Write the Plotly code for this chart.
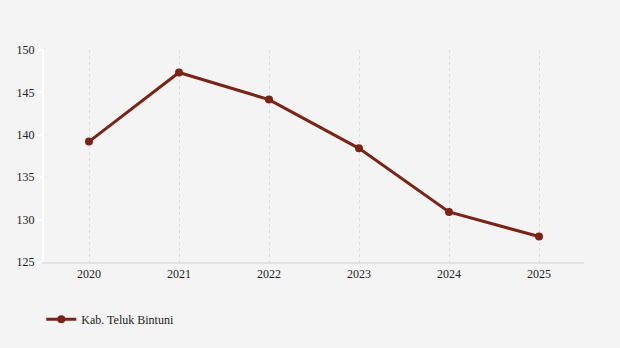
import plotly.graph_objects as go

years = ["2020", "2021", "2022", "2023", "2024", "2025"]
values = [139.2, 147.35, 144.15, 138.4, 130.9, 128.0]
series_name = "Kab. Teluk Bintuni"
y_ticks = [125, 130, 135, 140, 145, 150]

color = "#7b2315"
fig = go.Figure()
fig.add_trace(go.Scatter(
    x=years, y=values, name=series_name, mode="lines+markers",
    line=dict(color=color, width=3),
    marker=dict(color=color, size=8),
))
fig.update_layout(
    width=620, height=348,
    margin=dict(l=44, r=36, t=50, b=86),
    paper_bgcolor="#f4f4f4", plot_bgcolor="#f4f4f4",
    font=dict(family="Times New Roman", size=12, color="#222"),
    showlegend=True,
    legend=dict(orientation="h", x=-0.005, xanchor="left", y=-0.27, yanchor="middle",
                bgcolor="rgba(0,0,0,0)", font=dict(size=12)),
    xaxis=dict(
        type="category", range=[-0.5, 5.5],
        showgrid=True, gridcolor="#dcdcdc", griddash="dot", gridwidth=1,
        showline=True, linecolor="#e2e2e2", linewidth=2,
        ticks="", zeroline=False,
    ),
    yaxis=dict(
        range=[125, 150], tickvals=y_ticks,
        showgrid=False, zeroline=False,
        showline=True, linecolor="#ffffff", linewidth=2,
        ticks="outside", tickcolor="#ffffff", ticklen=5, tickwidth=2,
    ),
)
fig.write_html("out.html")
